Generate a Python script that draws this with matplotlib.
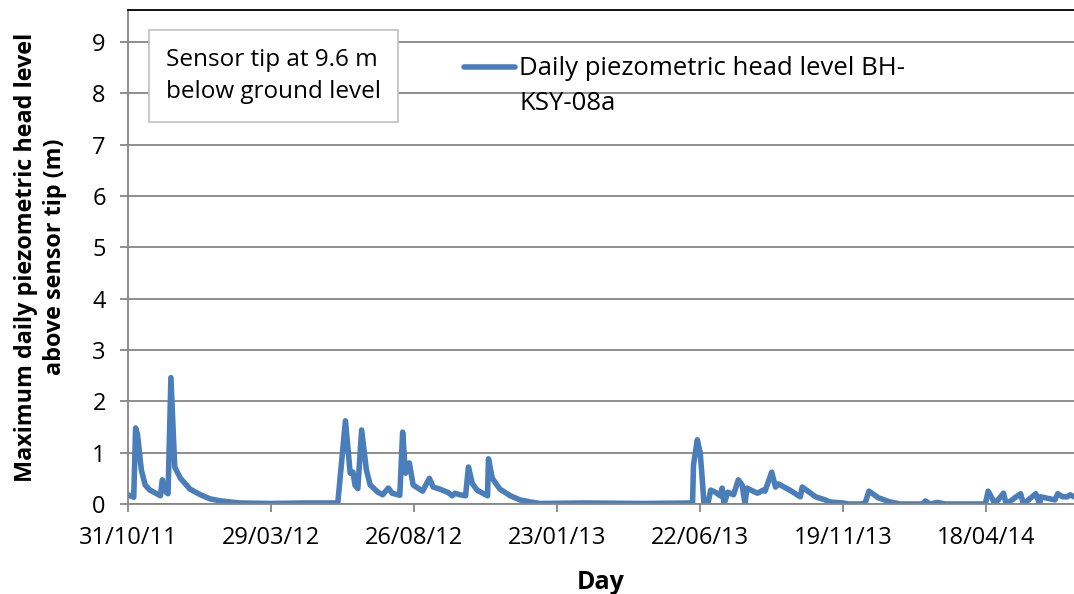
import datetime as dt
import matplotlib
matplotlib.use('Agg')
import matplotlib.pyplot as plt
import matplotlib.dates as mdates
from matplotlib.legend_handler import HandlerLine2D

# data: days after 31/10/2011, head above sensor tip (m)
start = dt.date(2011, 10, 31)
day = [0, 6, 8, 10, 14, 18, 23, 34, 36, 40, 42, 45, 49, 55, 65, 76, 86, 97, 107, 117,
       150, 185, 220, 228, 233, 236, 238, 241, 245, 250, 254, 262, 267, 273, 277, 285,
       288, 291, 295, 299, 304, 309, 316, 320, 327, 336, 340, 343, 348, 354, 357, 361,
       366, 375, 377, 378, 382, 390, 401, 411, 422, 432, 480, 540, 592, 593, 597, 600,
       602, 604, 608, 611, 616, 621, 623, 625, 629, 635, 640, 644, 647, 649, 660, 666,
       668, 675, 679, 682, 694, 705, 707, 721, 731, 736, 750, 755, 768, 773, 777, 787,
       799, 810, 834, 836, 841, 849, 857, 899, 902, 907, 909, 918, 921, 936, 939, 952,
       956, 957, 972, 975, 980, 985, 988, 992]
head = [0.18, 0.13, 1.48, 1.35, 0.66, 0.37, 0.27, 0.16, 0.47, 0.23, 0.20, 2.46, 0.72, 0.50,
        0.29, 0.18, 0.10, 0.06, 0.04, 0.02, 0.01, 0.02, 0.02, 1.62, 0.60, 0.62, 0.37, 0.30,
        1.44, 0.66, 0.37, 0.23, 0.18, 0.31, 0.21, 0.17, 1.40, 0.60, 0.80, 0.37, 0.31, 0.25,
        0.50, 0.33, 0.29, 0.22, 0.16, 0.21, 0.18, 0.16, 0.72, 0.40, 0.27, 0.18, 0.16, 0.88,
        0.50, 0.29, 0.16, 0.08, 0.04, 0.01, 0.02, 0.01, 0.02, 0.76, 1.25, 1.00, 0.53, 0.00,
        0.00, 0.27, 0.23, 0.16, 0.31, 0.00, 0.23, 0.18, 0.47, 0.37, 0.00, 0.31, 0.21, 0.27,
        0.25, 0.62, 0.33, 0.39, 0.27, 0.14, 0.33, 0.14, 0.08, 0.04, 0.02, 0.00, 0.00, 0.02,
        0.25, 0.12, 0.04, 0.00, 0.00, 0.06, 0.00, 0.03, 0.00, 0.00, 0.25, 0.08, 0.00, 0.21,
        0.00, 0.20, 0.00, 0.20, 0.00, 0.14, 0.08, 0.20, 0.14, 0.14, 0.18, 0.14]
tick_days = [0, 150, 300, 450, 600, 750, 900]
y_ticks = list(range(0, 10))

dates = [start + dt.timedelta(days=d) for d in day]
tick_dates = [start + dt.timedelta(days=d) for d in tick_days]


class FirstLineHandler(HandlerLine2D):
    # put the legend line beside the first line of a two-line label
    def create_artists(self, legend, orig_handle, xdescent, ydescent, width, height, fontsize, trans):
        artists = super().create_artists(legend, orig_handle, xdescent, ydescent,
                                         width, height, fontsize, trans)
        for a in artists:
            a.set_ydata([y + 14 for y in a.get_ydata()])
        return artists


plt.rcParams['font.family'] = ['Open Sans', 'DejaVu Sans']
grid_c = '#868686'

fig = plt.figure(figsize=(10.74, 5.94), dpi=100)
ax = fig.add_axes([128 / 1074, 90 / 594, 946 / 1074, 494 / 594])

line, = ax.plot(dates, head, color='#4a7ebb', lw=4.0, solid_joinstyle='round',
                solid_capstyle='round', label='Daily piezometric head level BH-\nKSY-08a')

ax.set_xlim(start, start + dt.timedelta(days=992))
ax.set_ylim(0, 9.62)
ax.set_yticks(y_ticks)
ax.set_xticks(tick_dates)
ax.xaxis.set_major_formatter(mdates.DateFormatter('%d/%m/%y'))
ax.grid(axis='y', color=grid_c, lw=1.3)
ax.set_axisbelow(True)

ax.spines['right'].set_visible(False)
ax.spines['top'].set_color('black')
ax.spines['top'].set_linewidth(1.3)
for s in ['left', 'bottom']:
    ax.spines[s].set_color(grid_c)
    ax.spines[s].set_linewidth(1.3)
ax.tick_params(axis='both', colors=grid_c, labelcolor='black', labelsize=17, width=1.3, length=6)
ax.tick_params(axis='x', pad=10)
ax.tick_params(axis='y', pad=10)

ax.set_xlabel('Day', fontsize=18, fontweight='bold', labelpad=14)
ax.set_ylabel('Maximum daily piezometric head level\nabove sensor tip (m)',
              fontsize=16.8, fontweight='bold', labelpad=18, linespacing=1.3)

fig.text(166 / 1074, 1 - 76 / 594, 'Sensor tip at 9.6 m\nbelow ground level',
         fontsize=17.5, va='center', ha='left', linespacing=1.5,
         bbox=dict(boxstyle='square,pad=0.7', fc='white', ec='#c0c0c0', lw=1.2))

leg = ax.legend(loc='upper left', bbox_to_anchor=(464 / 1074, 1 - 56 / 594),
                bbox_transform=fig.transFigure, frameon=False, fontsize=18.5,
                handlelength=2.0, handletextpad=0.15, borderpad=0, borderaxespad=0,
                handler_map={line: FirstLineHandler()})
leg.get_texts()[0].set_linespacing(1.5)

fig.savefig('out.png', dpi=100)
